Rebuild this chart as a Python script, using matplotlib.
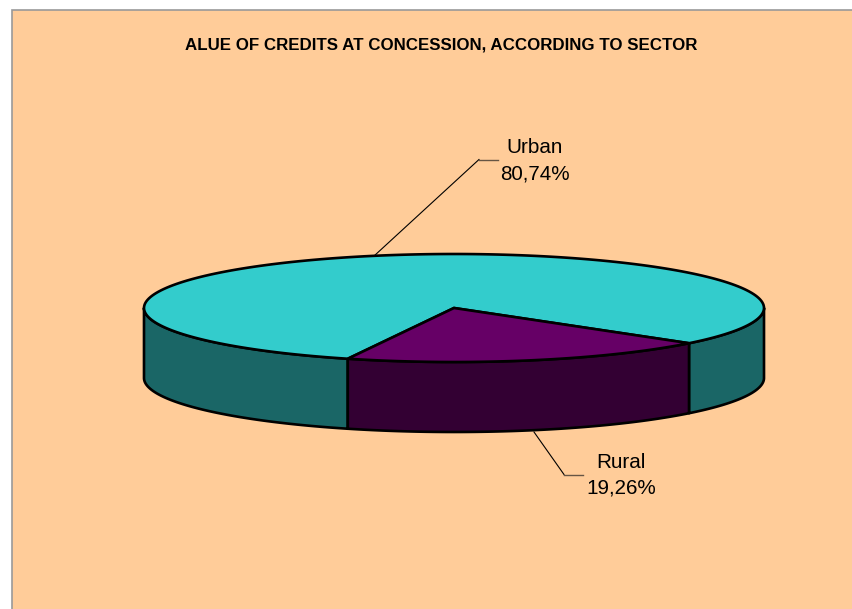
import numpy as np
import matplotlib
matplotlib.use("Agg")
import matplotlib.pyplot as plt
from matplotlib.patches import Polygon, Rectangle

plt.rcParams['font.family'] = ['Liberation Sans', 'DejaVu Sans']

title = "ALUE OF CREDITS AT CONCESSION, ACCORDING TO SECTOR"
sectors = ["Urban", "Rural"]
values = [80.74, 19.26]
value_labels = ["80,74%", "19,26%"]
top_colors = ["#33CCCC", "#660066"]
side_colors = ["#1A6666", "#330033"]

# pie geometry in pixels
cx, cy, rx, ry, depth = 454, 308, 310, 54, 70
rural_start = 40.7


def rim(t1, t2, drop=0):
    t = np.radians(np.linspace(t1, t2, 200))
    return np.column_stack([cx + rx * np.cos(t), cy + drop + ry * np.sin(t)])


def side(ax, t1, t2, color):
    pts = np.vstack([rim(t1, t2), rim(t1, t2, depth)[::-1]])
    ax.add_patch(Polygon(pts, closed=True, fc=color, ec="black", lw=1.9, joinstyle="round"))


fig = plt.figure(figsize=(8.53, 6.09), dpi=100)
ax = fig.add_axes([0, 0, 1, 1])
ax.set_xlim(0, 853)
ax.set_ylim(609, 0)
ax.axis("off")

ax.add_patch(Rectangle((12, 10), 860, 620, fc="#FFCC99", ec="#999999", lw=1.2))

rural_end = rural_start + values[1] / sum(values) * 360

# front wall, only the lower half of the ellipse shows
side(ax, 0, rural_start, side_colors[0])
side(ax, rural_end, 180, side_colors[0])
side(ax, rural_start, rural_end, side_colors[1])

# top face
urban_pts = np.vstack([[[cx, cy]], rim(rural_end, rural_start + 360)])
rural_pts = np.vstack([[[cx, cy]], rim(rural_start, rural_end)])
ax.add_patch(Polygon(urban_pts, closed=True, fc=top_colors[0], ec="black", lw=1.9))
ax.add_patch(Polygon(rural_pts, closed=True, fc=top_colors[1], ec="black", lw=1.9))

# leader lines, the short flat parts look greyer
ax.plot([374, 479], [256, 159.5], color="black", lw=0.8)
ax.plot([479, 498], [159.5, 159.5], color="#665544", lw=1.0)
ax.plot([534, 564], [432, 474.5], color="black", lw=0.8)
ax.plot([564, 583], [474.5, 474.5], color="#665544", lw=1.0)

ax.text(441, 45.5, title, ha="center", va="center", fontsize=12.2, fontweight="bold", color="black")
ax.text(535, 147.5, sectors[0], ha="center", va="center", fontsize=14.9)
ax.text(535, 173.5, value_labels[0], ha="center", va="center", fontsize=14.9)
ax.text(621, 462, sectors[1], ha="center", va="center", fontsize=14.9)
ax.text(621, 488, value_labels[1], ha="center", va="center", fontsize=14.9)

fig.savefig("out.png", dpi=100, facecolor="white")
